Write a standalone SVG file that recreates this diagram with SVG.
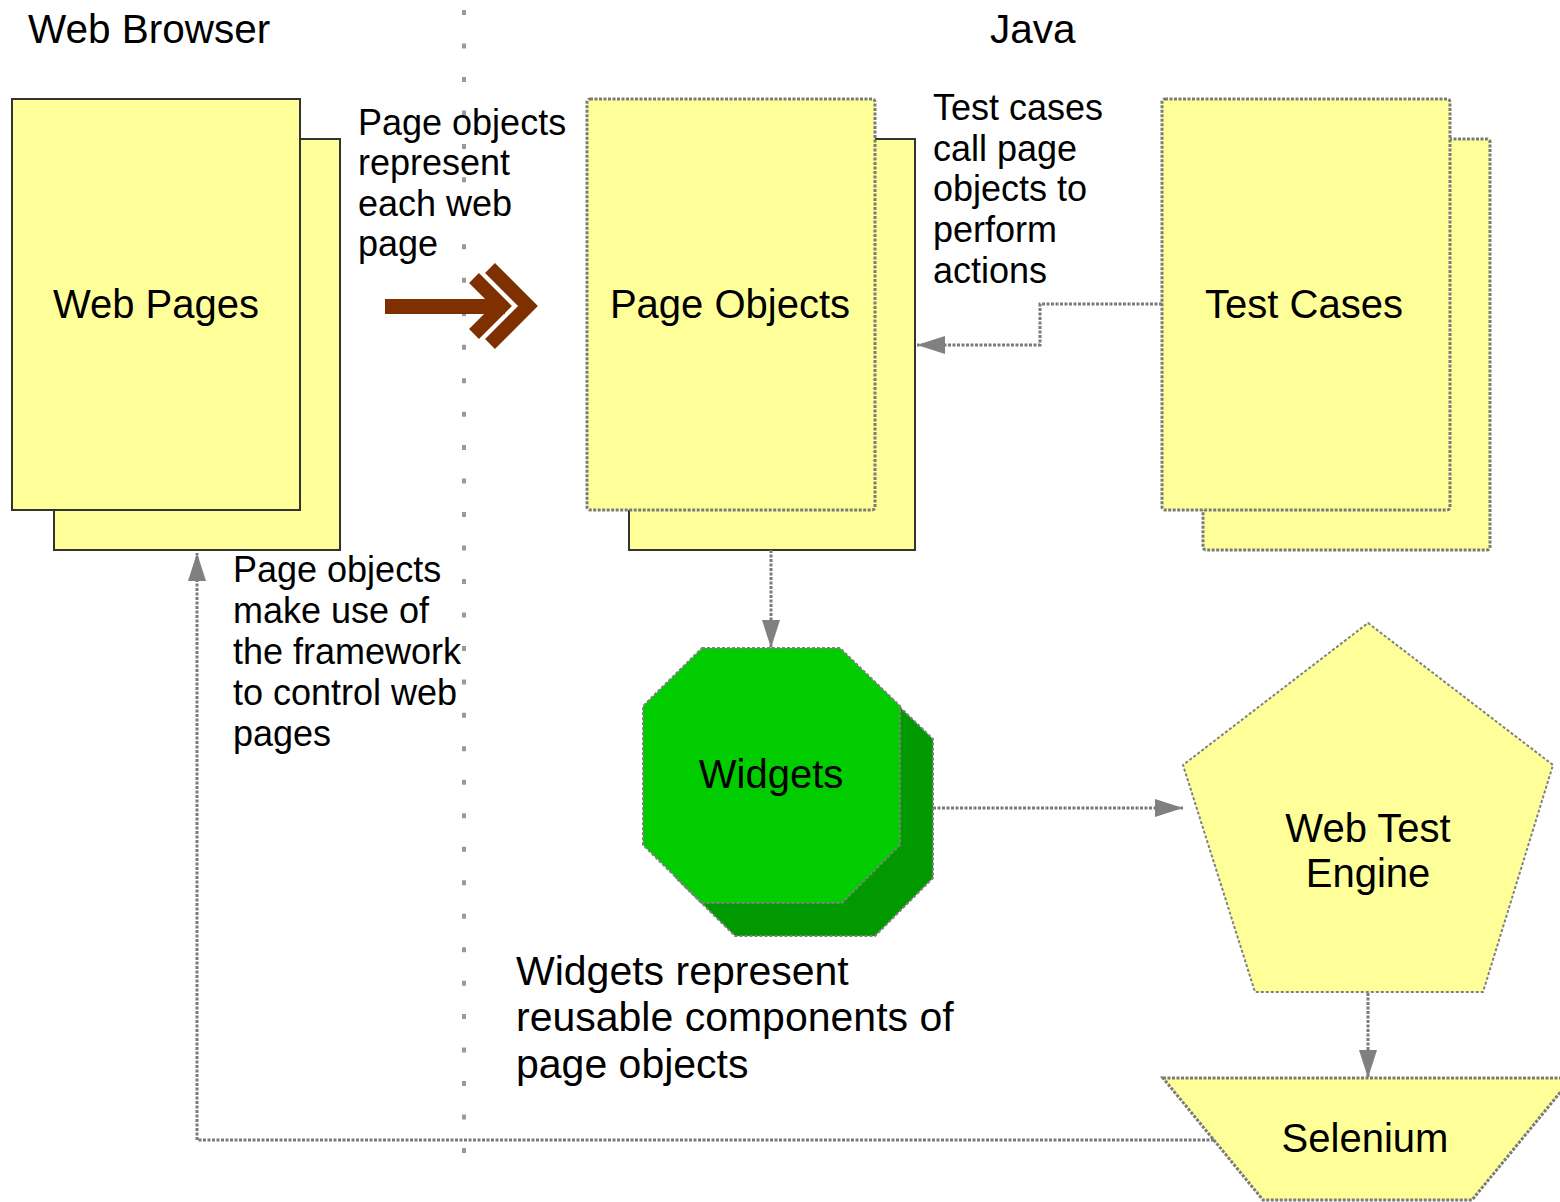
<svg xmlns="http://www.w3.org/2000/svg" width="1560" height="1202" viewBox="0 0 1560 1202">
<style>
.t{font-family:"Liberation Sans",Arial,sans-serif;fill:#000}
.h{font-size:40.5px}
.n{font-size:40px}
.l{font-size:36px}
.w{font-size:41px}
.sheet{fill:#ffff99}
.solid{stroke:#333;stroke-width:2}
.dot{stroke:#7a7a7a;stroke-width:3;stroke-dasharray:3 1.5}
.conn{fill:none;stroke:#7a7a7a;stroke-width:3;stroke-dasharray:3 1.5}
</style>
<defs>
<marker id="ah" markerUnits="userSpaceOnUse" markerWidth="30" markerHeight="20" refX="28" refY="9" orient="auto">
<path d="M0,0 L28,9 L0,18 z" fill="#808080"/>
</marker>
</defs>
<rect width="1560" height="1202" fill="#fff"/>
<line x1="464" y1="10" x2="464" y2="1155" stroke="#999" stroke-width="4" stroke-dasharray="5 28.47"/>
<text class="t h" x="28" y="43">Web Browser</text>
<text class="t h" x="990" y="43">Java</text>
<g id="web-pages">
<rect class="sheet solid" x="54" y="139" width="286" height="411"/>
<rect class="sheet solid" x="12" y="99" width="288" height="411"/>
<text class="t n" x="156" y="318" text-anchor="middle">Web Pages</text>
</g>
<g id="page-objects">
<rect class="sheet solid" x="629" y="139" width="286" height="411"/>
<rect class="sheet dot" x="587" y="99" width="288" height="411" rx="3"/>
<text class="t n" x="730" y="318" text-anchor="middle">Page Objects</text>
</g>
<g id="test-cases">
<rect class="sheet dot" x="1203" y="139" width="287" height="411" rx="3"/>
<rect class="sheet dot" x="1162" y="99" width="288" height="411" rx="3"/>
<text class="t n" x="1304" y="318" text-anchor="middle">Test Cases</text>
</g>
<g id="widgets">
<polygon points="735,681 873,681 933,739 933,878 875,936 735,936 676,878 676,739" fill="#009900" stroke="#808080" stroke-width="2" stroke-dasharray="3 2"/>
<polygon points="702,648 840,648 900,706 900,845 842,903 702,903 643,845 643,706" fill="#00cc00" stroke="#808080" stroke-width="2" stroke-dasharray="3 2"/>
<text class="t n" x="771" y="788" text-anchor="middle">Widgets</text>
</g>
<g id="web-test-engine">
<polygon points="1368,623 1553,765 1483,992 1255,992 1183,765" fill="#ffff99" stroke="#808080" stroke-width="2" stroke-dasharray="3 2"/>
<text class="t n" x="1368" y="842" text-anchor="middle">Web Test</text>
<text class="t n" x="1368" y="887" text-anchor="middle">Engine</text>
</g>
<g id="selenium">
<polygon points="1163,1078 1572,1078 1472,1200 1263,1200" fill="#ffff99" stroke="#7a7a7a" stroke-width="3" stroke-dasharray="3 1.5"/>
<text class="t n" x="1365" y="1152" text-anchor="middle">Selenium</text>
</g>
<g id="labels">
<text class="t l" x="358" y="135">Page objects</text>
<text class="t l" x="358" y="175">represent</text>
<text class="t l" x="358" y="216">each web</text>
<text class="t l" x="358" y="256">page</text>
<text class="t l" x="933" y="120">Test cases</text>
<text class="t l" x="933" y="161">call page</text>
<text class="t l" x="933" y="201">objects to</text>
<text class="t l" x="933" y="242">perform</text>
<text class="t l" x="933" y="283">actions</text>
<text class="t l" x="233" y="582">Page objects</text>
<text class="t l" x="233" y="623">make use of</text>
<text class="t l" x="233" y="664">the framework</text>
<text class="t l" x="233" y="705">to control web</text>
<text class="t l" x="233" y="746">pages</text>
<text class="t w" x="516" y="985">Widgets represent</text>
<text class="t w" x="516" y="1031">reusable components of</text>
<text class="t w" x="516" y="1078">page objects</text>
</g>
<g id="connectors">
<g id="big-arrow" fill="none" stroke="#7f3000" stroke-width="14" stroke-linejoin="miter">
<line x1="385" y1="306.5" x2="505" y2="306.5" stroke-width="15"/>
<polyline points="474,278 502,306 474,334"/>
<polyline points="490,268 528,306 490,344"/>
</g>
<polyline class="conn" points="1162,304 1040,304 1040,345 917,345" marker-end="url(#ah)"/>
<line class="conn" x1="771" y1="550" x2="771" y2="648" marker-end="url(#ah)"/>
<line class="conn" x1="933" y1="808" x2="1183" y2="808" marker-end="url(#ah)"/>
<line class="conn" x1="1368" y1="993" x2="1368" y2="1078" marker-end="url(#ah)"/>
<polyline class="conn" points="1214,1140 197,1140 197,553" marker-end="url(#ah)"/>
</g>
</svg>
